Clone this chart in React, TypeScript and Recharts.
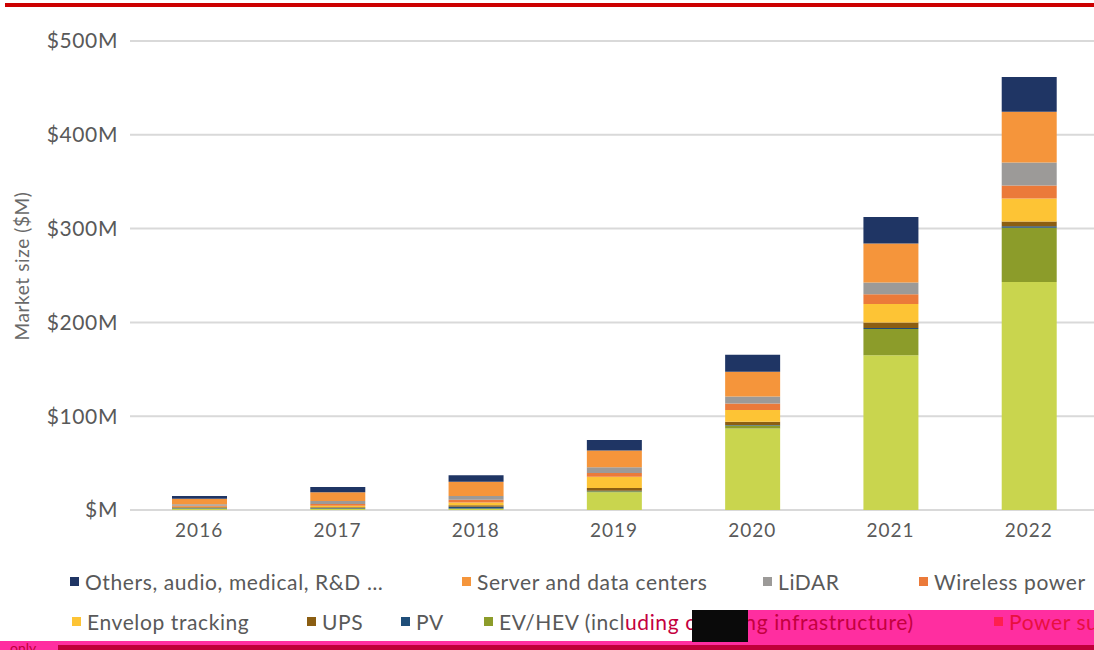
import React from "react";
import { Bar, BarChart, CartesianGrid, XAxis, YAxis } from "recharts";

const years = ["2016", "2017", "2018", "2019", "2020", "2021", "2022"];

// values in $M, stacked bottom -> top
const powerSupply = [1.5, 1, 1, 19, 87, 165, 243];
const evHev = [0, 0.5, 0.5, 1, 3, 28, 58];
const pv = [0.5, 0.5, 2, 0.5, 0.5, 1, 1.5];
const ups = [1, 1, 1.5, 3, 3.5, 6, 5];
const envelop = [0.5, 1.5, 3, 12, 12.5, 19.5, 24.5];
const wireless = [1, 2, 3, 4, 7, 10.5, 14];
const lidar = [1.5, 3, 4, 6, 7.5, 12.5, 24.5];
const server = [6, 9.5, 15, 18, 26.5, 41.5, 54];
const others = [3, 5.5, 7, 11, 18, 28.5, 37];

const yTicks = [0, 100, 200, 300, 400, 500];

const SERIES = [
  { key: "powerSupply", name: "Power supply", color: "#c9d54e", values: powerSupply },
  { key: "evHev", name: "EV/HEV (including charging infrastructure)", color: "#8c9c2a", values: evHev },
  { key: "pv", name: "PV", color: "#1f4e79", values: pv },
  { key: "ups", name: "UPS", color: "#8b5e12", values: ups },
  { key: "envelop", name: "Envelop tracking", color: "#fdc435", values: envelop },
  { key: "wireless", name: "Wireless power", color: "#eb7a3a", values: wireless },
  { key: "lidar", name: "LiDAR", color: "#9c9a98", values: lidar },
  { key: "server", name: "Server and data centers", color: "#f5953b", values: server },
  { key: "others", name: "Others, audio, medical, R&D …", color: "#1f3564", values: others },
];

const data = years.map((year, i) => {
  const row: Record<string, string | number> = { year };
  SERIES.forEach((s) => { row[s.key] = s.values[i]; });
  return row;
});

const FONT = "Lato, 'Open Sans', sans-serif";
const TEXT = "#595959";
const GRID = "#d9d9d9";

// legend layout: [seriesKey, left x of square, row]
const LEGEND_POS: [string, number, number][] = [
  ["others", 70, 0],
  ["server", 462, 0],
  ["lidar", 763, 0],
  ["wireless", 919, 0],
  ["envelop", 72, 1],
  ["ups", 307, 1],
  ["pv", 401, 1],
  ["evHev", 484, 1],
  ["powerSupply", 994, 1],
];
const ROW_Y = [581, 621];

function LegendItem({ k, x, row }: { k: string; x: number; row: number }) {
  const s = SERIES.find((d) => d.key === k)!;
  const onPink = k === "powerSupply";
  const square = onPink ? "#ff1f4f" : s.color;
  let label: React.ReactNode = s.name;
  if (k === "evHev") {
    label = (
      <>
        <span>EV/HEV (incl</span>
        <span style={{ color: "#c4003e" }}>uding charging infrastructure)</span>
      </>
    );
  }
  return (
    <div
      style={{
        position: "absolute",
        left: x,
        top: ROW_Y[row] - 13,
        height: 26,
        display: "flex",
        alignItems: "center",
        whiteSpace: "nowrap",
        fontFamily: FONT,
        fontSize: 21,
        letterSpacing: 0.6,
        color: onPink ? "#e8103f" : TEXT,
        zIndex: 2,
      }}
    >
      <span style={{ width: 9, height: 9, background: square, display: "inline-block", marginRight: 6 }} />
      {label}
    </div>
  );
}

export default function App() {
  return (
    <div
      style={{
        position: "absolute",
        left: 0,
        top: 0,
        width: 1094,
        height: 650,
        overflow: "hidden",
        background: "#fff",
      }}
    >
      <div style={{ position: "absolute", left: 5, top: 3, width: 1089, height: 4, background: "#cc0000" }} />
      <BarChart
        width={1100}
        height={560}
        data={data}
        margin={{ top: 41, right: 2, left: 0, bottom: 0 }}
        barSize={55}
      >
        <CartesianGrid vertical={false} stroke={GRID} strokeWidth={2} />
        <XAxis
          dataKey="year"
          height={50}
          axisLine={false}
          tickLine={false}
          tickSize={0}
          tickMargin={14}
          tick={{ fill: TEXT, fontSize: 19, fontFamily: FONT, letterSpacing: 1 }}
        />
        <YAxis
          width={130}
          domain={[0, 500]}
          ticks={yTicks}
          axisLine={false}
          tickLine={false}
          tickSize={0}
          tickMargin={12}
          tickFormatter={(v: number) => (v === 0 ? "$M" : `$${v}M`)}
          tick={{ fill: TEXT, fontSize: 21, fontFamily: FONT, letterSpacing: 0.6 }}
          label={{
            content: () => (
              <text
                x={21}
                y={266}
                transform="rotate(-90, 21, 266)"
                textAnchor="middle"
                dominantBaseline="central"
                fill="#6a6a6a"
                fontSize={19}
                fontFamily={FONT}
                letterSpacing={0.6}
              >
                Market size ($M)
              </text>
            ),
          }}
        />
        {SERIES.map((s) => (
          <Bar
            key={s.key}
            dataKey={s.key}
            name={s.name}
            stackId="a"
            fill={s.color}
            isAnimationActive={false}
          />
        ))}
      </BarChart>

      {/* pink highlight artefacts at the bottom of the source picture */}
      <div style={{ position: "absolute", left: 692, top: 610, width: 402, height: 32, background: "#ff2ea0", zIndex: 1 }} />
      <div style={{ position: "absolute", left: 692, top: 610, width: 56, height: 32, background: "#0a0a0a", zIndex: 3 }} />
      <div style={{ position: "absolute", left: 0, top: 641, width: 1094, height: 9, background: "#ff2ea0", zIndex: 1 }} />
      <div style={{ position: "absolute", left: 58, top: 645, width: 1036, height: 5, background: "#c0003a", zIndex: 1 }} />
      <div
        style={{
          position: "absolute",
          left: 10,
          top: 639,
          fontFamily: FONT,
          fontSize: 14,
          color: "#c0003a",
          zIndex: 2,
        }}
      >
        only
      </div>

      {LEGEND_POS.map(([k, x, row]) => (
        <LegendItem key={k} k={k} x={x} row={row} />
      ))}
    </div>
  );
}
